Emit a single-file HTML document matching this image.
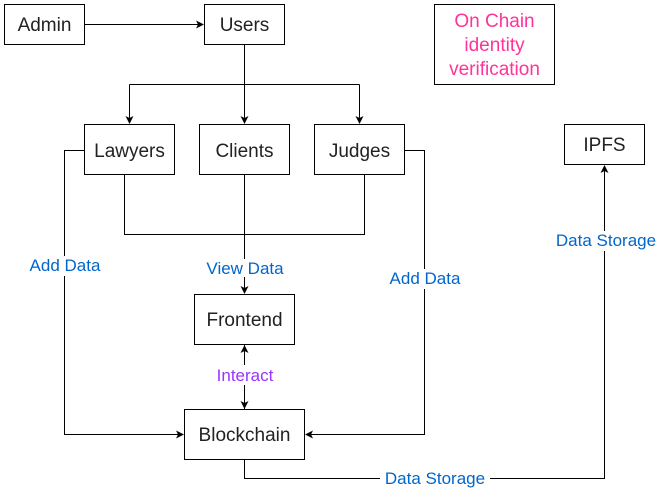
<!DOCTYPE html>
<html><head><style>body{margin:0;background:#fff}</style></head><body>
<svg width="663" height="493" xmlns="http://www.w3.org/2000/svg" font-family="Liberation Sans, sans-serif">
<defs><marker id="a" markerWidth="8" markerHeight="8" refX="7" refY="4" orient="auto" markerUnits="userSpaceOnUse"><path d="M0,0 L8,4 L0,8 L2,4 Z" fill="#000"/></marker></defs>
<g stroke="#000" stroke-width="1" fill="none">
<rect x="4.5" y="4.5" width="80" height="40"/>
<rect x="204.5" y="4.5" width="80" height="40"/>
<rect x="434.5" y="4.5" width="120" height="80"/>
<rect x="84.5" y="124.5" width="90" height="50"/>
<rect x="199.5" y="124.5" width="90" height="50"/>
<rect x="314.5" y="124.5" width="90" height="50"/>
<rect x="564.5" y="124.5" width="80" height="40"/>
<rect x="194.5" y="294.5" width="100" height="50"/>
<rect x="184.5" y="409.5" width="120" height="50"/>
<path d="M84.5 24.5 H203" marker-end="url(#a)"/>
<path d="M244.5 44.5 V123" marker-end="url(#a)"/>
<path d="M129.5 84.5 H359.5"/>
<path d="M129.5 84.5 V123" marker-end="url(#a)"/>
<path d="M359.5 84.5 V123" marker-end="url(#a)"/>
<path d="M124.5 174.5 V234.5 H364.5 V174.5"/>
<path d="M244.5 174.5 V293" marker-end="url(#a)"/>
<path d="M84.5 150.5 H64.5 V434.5 H183" marker-end="url(#a)"/>
<path d="M404.5 150.5 H424.5 V434.5 H306" marker-end="url(#a)"/>
<path d="M244.5 360 V346" marker-end="url(#a)"/>
<path d="M244.5 390 V408" marker-end="url(#a)"/>
<path d="M244.5 344.5 V409.5"/>
<path d="M244.5 459.5 V478.5 H604.5 V166" marker-end="url(#a)"/>
</g>
<g font-size="17" fill="#0066CC" text-anchor="middle">
<rect x="26" y="256" width="78" height="20" fill="#fff"/><text x="65" y="271">Add Data</text>
<rect x="203" y="259" width="84" height="18" fill="#fff"/><text x="245" y="274">View Data</text>
<rect x="386" y="269" width="78" height="20" fill="#fff"/><text x="425" y="284">Add Data</text>
<rect x="380" y="469" width="110" height="20" fill="#fff"/><text x="435" y="484">Data Storage</text>
<rect x="551" y="231" width="110" height="20" fill="#fff"/><text x="606" y="246">Data Storage</text>
<rect x="212" y="365" width="66" height="20" fill="#fff"/><text x="245" y="381" fill="#9933FF">Interact</text>
</g>
<g font-size="19" fill="#222" text-anchor="middle">
<text x="44.5" y="31">Admin</text>
<text x="244.5" y="31">Users</text>
<text x="129.5" y="157">Lawyers</text>
<text x="244.5" y="157">Clients</text>
<text x="359.5" y="157">Judges</text>
<text x="604.5" y="151">IPFS</text>
<text x="244.5" y="326">Frontend</text>
<text x="244.5" y="441">Blockchain</text>
</g>
<g font-size="19" fill="#FF3399" text-anchor="middle">
<text x="494.5" y="27">On Chain</text>
<text x="494.5" y="51">identity</text>
<text x="494.5" y="75">verification</text>
</g>
</svg>
</body></html>
